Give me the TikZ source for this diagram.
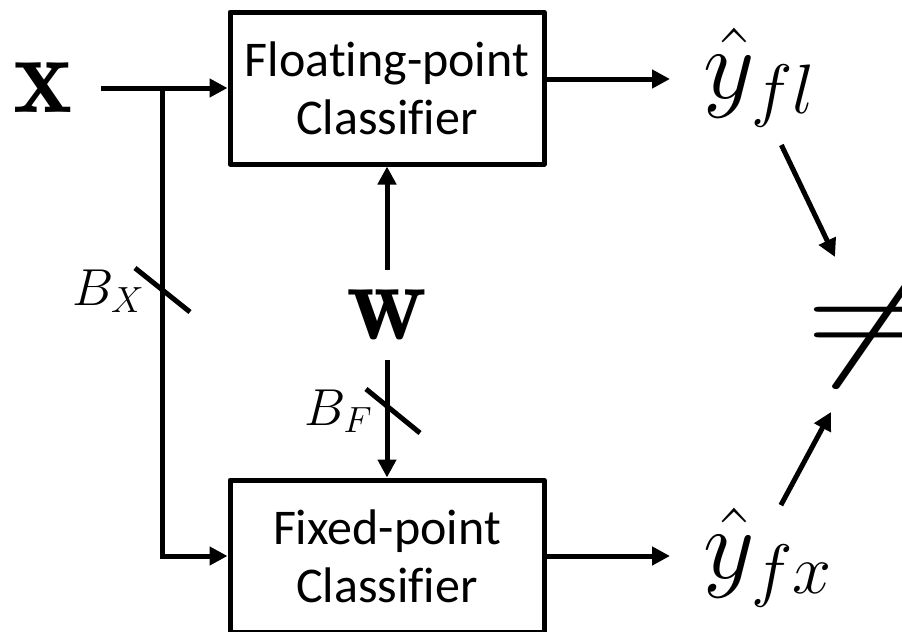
\documentclass[tikz,border=0pt]{standalone}
\usepackage{fix-cm}
\usepackage{amsmath}
\usepackage{fontspec}
\newfontfamily\boxfont[Ligatures=NoCommon]{Carlito}
\usetikzlibrary{arrows.meta, positioning, calc}

\begin{document}
\begin{tikzpicture}[
    x=0.5pt, y=-0.5pt,
    block/.style={rectangle, draw, line width=2.5pt, line join=round, minimum width=157pt, minimum height=76pt, inner sep=0pt, align=center, font=\boxfont\fontsize{25}{29}\selectfont},
    arrow/.style={line width=2.5pt, -{Triangle[length=9pt,width=9pt]}},
    sig/.style={inner sep=0pt, font=\fontsize{50}{60}\selectfont},
    bold/.style={inner sep=0pt, font=\fontsize{56}{66}\selectfont},
    bits/.style={inner sep=0pt, font=\fontsize{26}{30}\selectfont},
    slash/.style={line width=2.5pt}
]
\useasboundingbox (0,0) rectangle (902,632);

% the two classifiers
\node [block] (flt) at (387,88) {Floating-point\\Classifier};
\node [block] (fix) at (387,556) {Fixed-point\\Classifier};

% inputs and outputs
\node [bold, inner sep=14pt] (xin) at (43,88) {$\mathbf{x}$};
\node [bold, inner sep=10pt] (w) at (387,315) {$\mathbf{w}$};
\node [sig, anchor=base west] (yfl) at (703,98) {$\hat{y}_{fl}$};
\node [sig, anchor=base west] (yfx) at (703,578) {$\hat{y}_{fx}$};
\node [inner sep=0pt, anchor=base west, xscale=1.35, font=\fontsize{72}{80}\selectfont] (neq) at (805,358) {$\neq$};
\node [bits, anchor=base east] (bx) at (145,305) {$B_X$};
\node [bits, anchor=base east] (bf) at (373,425) {$B_F$};

\coordinate (br) at (162,88);

\draw [arrow] (xin) -- (flt);
\draw [arrow] (br) |- (fix);
\draw [arrow] (w) -- (flt);
\draw [arrow] (w) -- (fix);
\draw [arrow, shorten >=16.5pt] ($(flt.east)+(0,-9)$) -- ($(flt.east -| yfl.west)+(0,-9)$);
\draw [arrow, shorten >=16.5pt] (fix.east) -- (fix.east -| yfx.west);
\draw [arrow] ([shift={(22,18)}]yfl.south) -- ([shift={(30,-101)}]neq.base west);
\draw [arrow] ([shift={(13,-3)}]yfx.north) -- ([shift={(26,54)}]neq.base west);

% bit-width marks
\draw [slash] ([shift={(-10,-37)}]bx.base east) -- ++(55,44);
\draw [slash] ([shift={(-7,-36)}]bf.base east) -- ++(54,44);
\end{tikzpicture}
\end{document}
